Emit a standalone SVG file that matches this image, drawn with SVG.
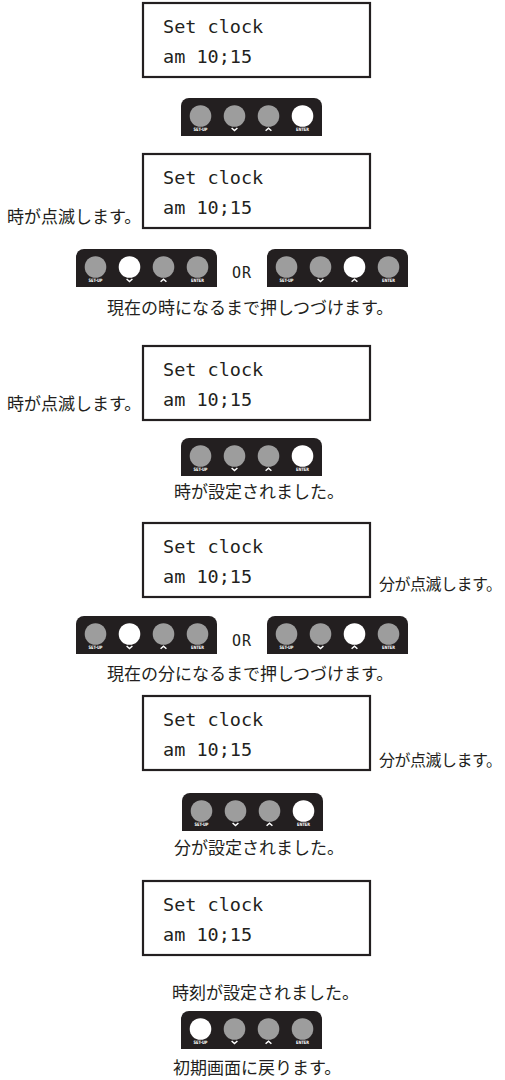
<svg xmlns="http://www.w3.org/2000/svg" xmlns:xlink="http://www.w3.org/1999/xlink" width="505" height="1080" viewBox="0 0 505 1080">
<style>
.lcd{fill:#fff;stroke:#231f20;stroke-width:2.2}
.mono{font-family:"DejaVu Sans Mono","Liberation Mono",monospace;font-size:18.5px;fill:#231f20}
.or{font-family:"DejaVu Sans Mono","Liberation Mono",monospace;font-size:15px;fill:#231f20;letter-spacing:1px}
.jp{font-family:"Noto Sans CJK JP",sans-serif;font-size:17px;fill:#231f20}
.jps{font-family:"Noto Sans CJK JP",sans-serif;font-size:16px;fill:#231f20}
.pbg{fill:#231f20}
.btn{fill:#9d9d9d}
.on{fill:#fff}
.lbl{font-family:"DejaVu Sans Condensed","DejaVu Sans",sans-serif;font-size:4.6px;font-weight:bold;fill:#fff}
.chev{fill:none;stroke:#fff;stroke-width:1.5}
</style>
<defs>
<g id="panel">
<path class="pbg" d="M0 38V8A8 8 0 0 1 8 0H133A8 8 0 0 1 141 8V38Z"/>
<text class="lbl" x="19.5" y="33" text-anchor="middle" textLength="14" lengthAdjust="spacingAndGlyphs">SET-UP</text>
<path class="chev" d="M50.6 30L53.5 32.6L56.4 30"/>
<path class="chev" d="M84.6 32.8L87.5 30.2L90.4 32.8"/>
<text class="lbl" x="121.5" y="33" text-anchor="middle" textLength="13" lengthAdjust="spacingAndGlyphs">ENTER</text>
</g>
</defs>

<g id="step1">
<rect class="lcd" x="143" y="3" width="227" height="74"/>
<text class="mono" x="163" y="32.5">Set clock</text>
<text class="mono" x="163" y="63">am 10;15</text>
</g>
<g id="panel1" transform="translate(181,98)">
<use xlink:href="#panel"/>
<circle class="btn" cx="19.5" cy="18" r="10.8"/><circle class="btn" cx="53.5" cy="18" r="10.8"/><circle class="btn" cx="87.5" cy="18" r="10.8"/><circle class="on" cx="121.5" cy="18" r="10.8"/>
</g>

<g id="step2">
<text class="jp" x="7" y="223">時が点滅します。</text>
<rect class="lcd" x="143" y="154" width="227" height="74"/>
<text class="mono" x="163" y="183.5">Set clock</text>
<text class="mono" x="163" y="214">am 10;15</text>
</g>
<g id="panel2a" transform="translate(76,249)">
<use xlink:href="#panel"/>
<circle class="btn" cx="19.5" cy="18" r="10.8"/><circle class="on" cx="53.5" cy="18" r="10.8"/><circle class="btn" cx="87.5" cy="18" r="10.8"/><circle class="btn" cx="121.5" cy="18" r="10.8"/>
</g>
<text class="or" x="242" y="278" text-anchor="middle">OR</text>
<g id="panel2b" transform="translate(267,249)">
<use xlink:href="#panel"/>
<circle class="btn" cx="19.5" cy="18" r="10.8"/><circle class="btn" cx="53.5" cy="18" r="10.8"/><circle class="on" cx="87.5" cy="18" r="10.8"/><circle class="btn" cx="121.5" cy="18" r="10.8"/>
</g>
<text class="jp" x="107" y="314">現在の時になるまで押しつづけます。</text>

<g id="step3">
<text class="jp" x="7" y="410">時が点滅します。</text>
<rect class="lcd" x="143" y="346" width="227" height="74"/>
<text class="mono" x="163" y="375.5">Set clock</text>
<text class="mono" x="163" y="406">am 10;15</text>
</g>
<g id="panel3" transform="translate(181,438)">
<use xlink:href="#panel"/>
<circle class="btn" cx="19.5" cy="18" r="10.8"/><circle class="btn" cx="53.5" cy="18" r="10.8"/><circle class="btn" cx="87.5" cy="18" r="10.8"/><circle class="on" cx="121.5" cy="18" r="10.8"/>
</g>
<text class="jp" x="174" y="498">時が設定されました。</text>

<g id="step4">
<rect class="lcd" x="143" y="523" width="227" height="74"/>
<text class="mono" x="163" y="552.5">Set clock</text>
<text class="mono" x="163" y="583">am 10;15</text>
<text class="jps" x="379" y="590" textLength="123" lengthAdjust="spacing">分が点滅します。</text>
</g>
<g id="panel4a" transform="translate(76,616)">
<use xlink:href="#panel"/>
<circle class="btn" cx="19.5" cy="18" r="10.8"/><circle class="on" cx="53.5" cy="18" r="10.8"/><circle class="btn" cx="87.5" cy="18" r="10.8"/><circle class="btn" cx="121.5" cy="18" r="10.8"/>
</g>
<text class="or" x="242" y="646" text-anchor="middle">OR</text>
<g id="panel4b" transform="translate(267,616)">
<use xlink:href="#panel"/>
<circle class="btn" cx="19.5" cy="18" r="10.8"/><circle class="btn" cx="53.5" cy="18" r="10.8"/><circle class="on" cx="87.5" cy="18" r="10.8"/><circle class="btn" cx="121.5" cy="18" r="10.8"/>
</g>
<text class="jp" x="107" y="680">現在の分になるまで押しつづけます。</text>

<g id="step5">
<rect class="lcd" x="143" y="696" width="227" height="74"/>
<text class="mono" x="163" y="725.5">Set clock</text>
<text class="mono" x="163" y="756">am 10;15</text>
<text class="jps" x="379" y="766" textLength="123" lengthAdjust="spacing">分が点滅します。</text>
</g>
<g id="panel5" transform="translate(182,793)">
<use xlink:href="#panel"/>
<circle class="btn" cx="19.5" cy="18" r="10.8"/><circle class="btn" cx="53.5" cy="18" r="10.8"/><circle class="btn" cx="87.5" cy="18" r="10.8"/><circle class="on" cx="121.5" cy="18" r="10.8"/>
</g>
<text class="jp" x="174" y="854">分が設定されました。</text>

<g id="step6">
<rect class="lcd" x="143" y="881" width="227" height="74"/>
<text class="mono" x="163" y="910.5">Set clock</text>
<text class="mono" x="163" y="941">am 10;15</text>
</g>
<text class="jp" x="172" y="999">時刻が設定されました。</text>
<g id="panel6" transform="translate(181,1011)">
<use xlink:href="#panel"/>
<circle class="on" cx="19.5" cy="18" r="10.8"/><circle class="btn" cx="53.5" cy="18" r="10.8"/><circle class="btn" cx="87.5" cy="18" r="10.8"/><circle class="btn" cx="121.5" cy="18" r="10.8"/>
</g>
<text class="jp" x="173" y="1074">初期画面に戻ります。</text>
</svg>
